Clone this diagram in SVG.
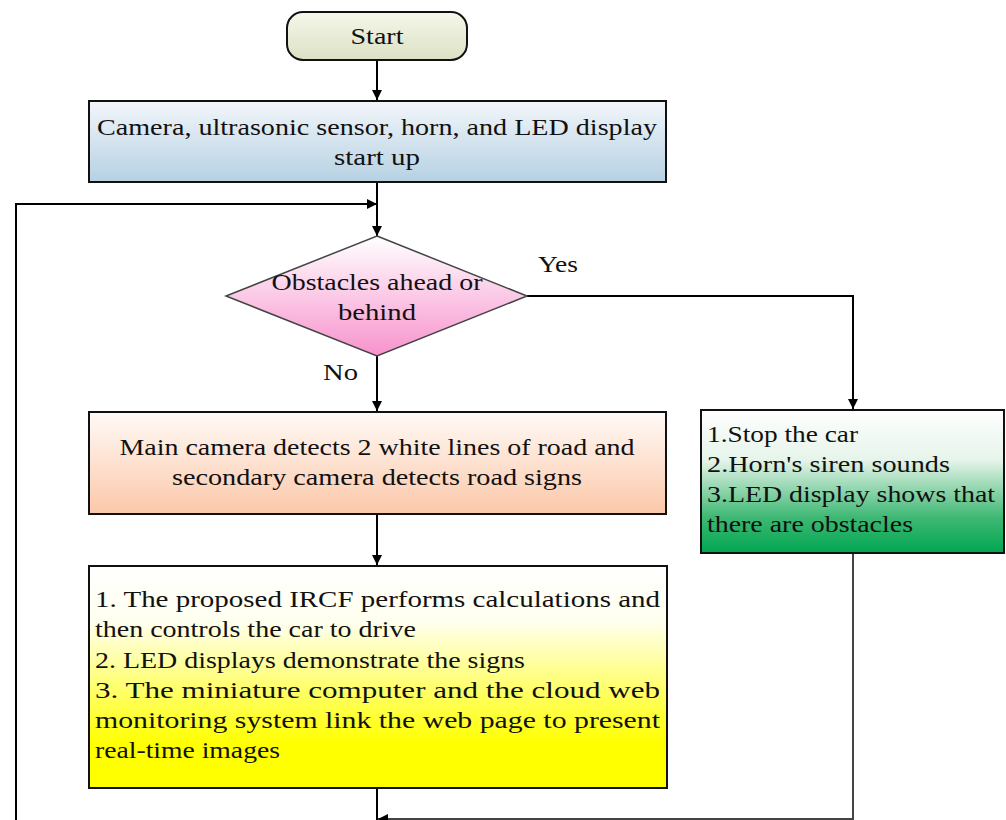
<svg xmlns="http://www.w3.org/2000/svg" width="1006" height="820" viewBox="0 0 1006 820">
<defs>
<linearGradient id="gStart" x1="0" y1="0" x2="0" y2="1"><stop offset="0" stop-color="#f5f7ea"/><stop offset="1" stop-color="#dbe1c4"/></linearGradient>
<linearGradient id="gBlue" x1="0" y1="0" x2="0" y2="1"><stop offset="0" stop-color="#f2f6fa"/><stop offset="1" stop-color="#b6d1e3"/></linearGradient>
<linearGradient id="gPink" x1="0" y1="0" x2="0" y2="1"><stop offset="0" stop-color="#ffffff"/><stop offset="1" stop-color="#f793cd"/></linearGradient>
<linearGradient id="gOrange" x1="0" y1="0" x2="0" y2="1"><stop offset="0" stop-color="#fffaf7"/><stop offset="1" stop-color="#fbc8a9"/></linearGradient>
<linearGradient id="gYellow" x1="0" y1="0" x2="0" y2="1"><stop offset="0" stop-color="#ffffff"/><stop offset="0.25" stop-color="#fffff0"/><stop offset="0.8" stop-color="#ffff00"/><stop offset="1" stop-color="#ffff00"/></linearGradient>
<linearGradient id="gGreen" x1="0" y1="0" x2="0" y2="1"><stop offset="0" stop-color="#ffffff"/><stop offset="0.35" stop-color="#e6f4ea"/><stop offset="0.75" stop-color="#3fb874"/><stop offset="1" stop-color="#00a651"/></linearGradient>
<marker id="arr" viewBox="0 0 10 10" refX="10" refY="5" markerWidth="10" markerHeight="10" markerUnits="userSpaceOnUse" orient="auto"><path d="M0,0 L10,5 L0,10 z" fill="#000"/></marker>
</defs>
<style>
.box{stroke:#111;stroke-width:2}
.t{font-family:"Liberation Serif",serif;font-size:23px;fill:#111}
.c{text-anchor:middle}
.ln{fill:none;stroke:#000;stroke-width:2}
</style>
<g id="connectors">
<path class="ln" d="M377,60 V100" marker-end="url(#arr)"/>
<path class="ln" d="M377,182 V236" marker-end="url(#arr)"/>
<path class="ln" d="M16,820 V204 H377" marker-end="url(#arr)"/>
<path class="ln" d="M527,296 H853 V409" marker-end="url(#arr)"/>
<path class="ln" d="M377,356 V411" marker-end="url(#arr)"/>
<path class="ln" d="M377,514 V565" marker-end="url(#arr)"/>
<path class="ln" d="M377,788 V820"/>
<path class="ln" d="M853,553 V819 H378" marker-end="url(#arr)" style="stroke:#444"/>
<text class="t" x="538" y="272" textLength="40" lengthAdjust="spacingAndGlyphs">Yes</text>
<text class="t" x="323" y="380" textLength="35" lengthAdjust="spacingAndGlyphs">No</text>
</g>
<g id="start">
<rect class="box" x="287" y="12" width="180" height="48" rx="16" fill="url(#gStart)" stroke="#333"/>
<text class="t c" x="377" y="44" textLength="53" lengthAdjust="spacingAndGlyphs">Start</text>
</g>
<g id="startup">
<rect class="box" x="89" y="101" width="577" height="81" fill="url(#gBlue)"/>
<text class="t c" x="377" y="135" textLength="560" lengthAdjust="spacingAndGlyphs">Camera, ultrasonic sensor, horn, and LED display</text>
<text class="t c" x="377" y="165" textLength="86" lengthAdjust="spacingAndGlyphs">start up</text>
</g>
<g id="decision">
<polygon points="377,236 527,296 377,356 226,296" fill="url(#gPink)" stroke="#444" stroke-width="1.5"/>
<text class="t c" x="377" y="290" textLength="211" lengthAdjust="spacingAndGlyphs">Obstacles ahead or</text>
<text class="t c" x="377" y="320" textLength="78" lengthAdjust="spacingAndGlyphs">behind</text>
</g>
<g id="detect">
<rect class="box" x="89" y="412" width="577" height="102" fill="url(#gOrange)"/>
<text class="t c" x="377" y="455" textLength="515" lengthAdjust="spacingAndGlyphs">Main camera detects 2 white lines of road and</text>
<text class="t c" x="377" y="485" textLength="410" lengthAdjust="spacingAndGlyphs">secondary camera detects road signs</text>
</g>
<g id="control">
<rect class="box" x="89" y="566" width="578" height="222" fill="url(#gYellow)"/>
<text class="t" x="95" y="607" textLength="565" lengthAdjust="spacingAndGlyphs">1. The proposed IRCF performs calculations and</text>
<text class="t" x="95" y="637" textLength="321" lengthAdjust="spacingAndGlyphs">then controls the car to drive</text>
<text class="t" x="95" y="668" textLength="430" lengthAdjust="spacingAndGlyphs">2. LED displays demonstrate the signs</text>
<text class="t" x="95" y="698" textLength="565" lengthAdjust="spacingAndGlyphs">3. The miniature computer and the cloud web</text>
<text class="t" x="95" y="728" textLength="565" lengthAdjust="spacingAndGlyphs">monitoring system link the web page to present</text>
<text class="t" x="95" y="758" textLength="185" lengthAdjust="spacingAndGlyphs">real-time images</text>
</g>
<g id="stop">
<rect class="box" x="701" y="410" width="303" height="143" fill="url(#gGreen)"/>
<text class="t" x="707" y="442" textLength="151" lengthAdjust="spacingAndGlyphs">1.Stop the car</text>
<text class="t" x="707" y="472" textLength="243" lengthAdjust="spacingAndGlyphs">2.Horn's siren sounds</text>
<text class="t" x="707" y="502" textLength="288" lengthAdjust="spacingAndGlyphs">3.LED display shows that</text>
<text class="t" x="707" y="532" textLength="206" lengthAdjust="spacingAndGlyphs">there are obstacles</text>
</g>
</svg>
